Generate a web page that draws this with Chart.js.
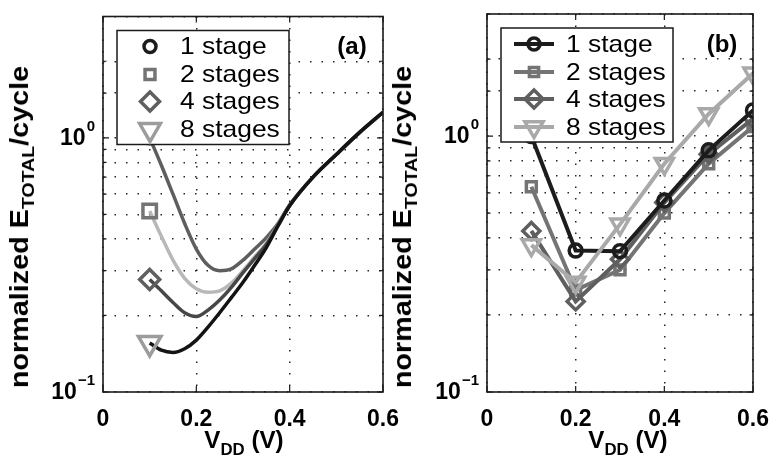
<!DOCTYPE html>
<html>
<head>
<meta charset="utf-8">
<script src="https://cdn.jsdelivr.net/npm/chart.js@4.4.0/dist/chart.umd.min.js"></script>
<style>
body { margin: 0; background: #fff; width: 783px; height: 459px; overflow: hidden; position: relative; font-family: "Liberation Sans", Arial, sans-serif; }
canvas { position: absolute; left: 0; top: 0; }
.yt { position: absolute; font-weight: bold; font-size: 25px; white-space: nowrap; transform: translate(-50%, -50%) rotate(-90deg) scaleX(1.15); line-height: 1; }
.xt { position: absolute; font-weight: bold; font-size: 23px; white-space: nowrap; transform: translate(-50%, -50%) scaleX(1.05); line-height: 1; }
.yt sub { font-size: 17px; vertical-align: -6px; }
.xt sub { font-size: 16px; vertical-align: -7px; }
</style>
</head>
<body>
<canvas id="ca" width="783" height="459"></canvas>
<canvas id="cb" width="783" height="459"></canvas>
<div class="yt" style="left:22px; top:227px;">normalized E<sub>TOTAL</sub>/cycle</div>
<div class="yt" style="left:405px; top:227px;">normalized E<sub>TOTAL</sub>/cycle</div>
<div class="xt" style="left:244px; top:443px;">V<sub>DD</sub> (V)</div>
<div class="xt" style="left:628px; top:443px;">V<sub>DD</sub> (V)</div>
<script>
// series labels and marker shapes
var stageLabels = ["1 stage", "2 stages", "4 stages", "8 stages"];
var markerStyles = ["circle", "rect", "rectRot", "triangle"];

// (a) model curves, V_DD in volts
var vddA = [0.1, 0.125, 0.15, 0.175, 0.2, 0.225, 0.25, 0.275, 0.3, 0.325, 0.35, 0.375, 0.4, 0.45, 0.5, 0.55, 0.6];
var a1 = [1.0, 0.78, 0.60, 0.46, 0.365, 0.315, 0.30, 0.305, 0.33, 0.365, 0.405, 0.46, 0.545, 0.70, 0.86, 1.05, 1.26];
var a2 = [0.515, 0.41, 0.33, 0.28, 0.255, 0.247, 0.25, 0.268, 0.30, 0.34, 0.385, 0.455, 0.542, 0.70, 0.86, 1.05, 1.26];
var a4 = [0.277, 0.25, 0.225, 0.205, 0.198, 0.21, 0.23, 0.258, 0.295, 0.335, 0.38, 0.453, 0.541, 0.70, 0.86, 1.05, 1.26];
var a8 = [0.156, 0.146, 0.143, 0.148, 0.16, 0.18, 0.205, 0.235, 0.27, 0.315, 0.37, 0.45, 0.54, 0.70, 0.86, 1.05, 1.26];

// (b) simulated points
var vddB = [0.1, 0.2, 0.3, 0.4, 0.5, 0.6];
var b1 = [1.0, 0.357, 0.355, 0.56, 0.88, 1.26];
var b2 = [0.634, 0.25, 0.30, 0.50, 0.78, 1.09];
var b4 = [0.426, 0.226, 0.33, 0.55, 0.85, 1.17];
var b8 = [0.375, 0.268, 0.452, 0.78, 1.22, 1.76];

// axis ticks
var xTickStep = 0.2;
var yTickVals = [0.1, 1];
var yTickExp = ["\u22121", "0"];

var lineColA = ["#5e5e5e", "#b8b8b8", "#474747", "#141414"];
var markColA = ["#1c1c1c", "#747474", "#5f5f5f", "#9c9c9c"];
var colB = ["#1c1c1c", "#747474", "#5f5f5f", "#a9a9a9"];
var radA = [6, 9.5, 10, 13];
var radB = [6.5, 7, 8.5, 10.5];

var FONT = "Liberation Sans";

function pts(xs, ys) {
    var out = [];
    for (var i = 0; i < xs.length; i++) {
        out.push({x: xs[i], y: ys[i]});
    }
    return out;
}

function drawMarker(ctx, style, x, y, r, color) {
    ctx.save();
    ctx.strokeStyle = color;
    ctx.lineWidth = 3.5;
    ctx.beginPath();
    if (style == "circle") {
        ctx.arc(x, y, r, 0, 2 * Math.PI);
    } else if (style == "rect") {
        var s = r * Math.SQRT1_2;
        ctx.rect(x - s, y - s, 2 * s, 2 * s);
    } else if (style == "rectRot") {
        ctx.moveTo(x - r, y); ctx.lineTo(x, y - r); ctx.lineTo(x + r, y); ctx.lineTo(x, y + r); ctx.closePath();
    } else {
        // downward triangle
        ctx.moveTo(x - r * 0.866, y - r * 0.5); ctx.lineTo(x + r * 0.866, y - r * 0.5); ctx.lineTo(x, y + r); ctx.closePath();
    }
    ctx.stroke();
    ctx.restore();
}

var panelInfo = {
    ca: {tag: "(a)", lines: false, colors: markColA, lineColors: lineColA, radii: [6, 7, 9.5, 12]},
    cb: {tag: "(b)", lines: true, colors: colB, lineColors: colB, radii: [6, 6.5, 9, 10.5]}
};

var matlabLook = {
    id: "matlabLook",
    afterDatasetsDraw: function(chart) {
        var ctx = chart.ctx;
        var a = chart.chartArea;
        var xs = chart.scales.x, ys = chart.scales.y;
        var info = panelInfo[chart.canvas.id];

        ctx.save();
        ctx.strokeStyle = "#1a1a1a";
        ctx.lineWidth = 1.2;
        // inward ticks
        ctx.beginPath();
        xs.ticks.forEach(function(t) {
            var px = xs.getPixelForValue(t.value);
            ctx.moveTo(px, a.bottom); ctx.lineTo(px, a.bottom - 6);
            ctx.moveTo(px, a.top); ctx.lineTo(px, a.top + 6);
        });
        ys.ticks.forEach(function(t) {
            var py = ys.getPixelForValue(t.value);
            var lg = Math.log10(t.value);
            var len = Math.abs(lg - Math.round(lg)) < 1e-6 ? 6 : 3.5;
            ctx.moveTo(a.left, py); ctx.lineTo(a.left + len, py);
            ctx.moveTo(a.right, py); ctx.lineTo(a.right - len, py);
        });
        ctx.stroke();

        // frame
        ctx.lineWidth = 1.6;
        ctx.strokeRect(a.left, a.top, a.right - a.left, a.bottom - a.top);

        // y tick labels 10^n
        ctx.fillStyle = "#000";
        ctx.textBaseline = "middle";
        ctx.textAlign = "right";
        for (var i = 0; i < yTickVals.length; i++) {
            var py = ys.getPixelForValue(yTickVals[i]);
            ctx.font = "bold 15px " + FONT;
            var ew = ctx.measureText(yTickExp[i]).width;
            ctx.fillText(yTickExp[i], a.left - 8, py - 11);
            ctx.font = "bold 23px " + FONT;
            ctx.fillText("10", a.left - 9 - ew, py + 1);
        }

        // panel tag
        ctx.textAlign = "center";
        ctx.font = "bold 24px " + FONT;
        ctx.fillText(info.tag, a.right - 31, a.top + 31);

        // legend box
        var bx = a.left + 14, by = a.top + 14, bw = 172, bh = 114;
        ctx.fillStyle = "#fff";
        ctx.fillRect(bx, by, bw, bh);
        ctx.lineWidth = 1.5;
        ctx.strokeStyle = "#1a1a1a";
        ctx.strokeRect(bx, by, bw, bh);
        var rows = [30, 58, 85, 113];
        ctx.textAlign = "left";
        ctx.font = "24px " + FONT;
        for (var k = 0; k < stageLabels.length; k++) {
            var ry = a.top + rows[k];
            var mx = bx + 33;
            if (info.lines) {
                ctx.save();
                ctx.strokeStyle = info.lineColors[k];
                ctx.lineWidth = 4;
                ctx.beginPath();
                ctx.moveTo(mx - 20, ry); ctx.lineTo(mx + 20, ry);
                ctx.stroke();
                ctx.restore();
            }
            drawMarker(ctx, markerStyles[k], mx, ry, info.radii[k], info.colors[k]);
            // legend text, a little wider like the original
            ctx.save();
            ctx.translate(bx + (info.lines ? 65 : 63), ry + 1);
            ctx.scale(1.1, 1);
            ctx.fillStyle = "#000";
            ctx.fillText(stageLabels[k], 0, 0);
            ctx.restore();
        }
        ctx.restore();
    }
};

function scaleOpts(yWidth) {
    var gridCol = "rgba(0,0,0,0.85)";
    return {
        x: {
            type: "linear", min: 0, max: 0.6,
            ticks: {
                stepSize: xTickStep, color: "#000", padding: 14, maxRotation: 0, autoSkip: false,
                font: {family: FONT, size: 23, weight: "bold"},
                callback: function(v) { return v == 0 ? "0" : v.toFixed(1); }
            },
            grid: {color: gridCol, lineWidth: 1.5, drawTicks: false},
            border: {display: false, dash: [1.5, 10]},
            afterFit: function(s) { s.height = 67; }
        },
        y: {
            type: "logarithmic", min: 0.1, max: 3,
            ticks: {display: false},
            grid: {color: gridCol, lineWidth: 1.5, drawTicks: false},
            border: {display: false, dash: [1.5, 10]},
            afterFit: function(s) { s.width = yWidth; }
        }
    };
}

var seriesA = [a1, a2, a4, a8];
var dsA = [];
for (var i = 0; i < seriesA.length; i++) {
    (function(i) {
        dsA.push({
            label: stageLabels[i],
            data: pts(vddA, seriesA[i]),
            borderColor: lineColA[i],
            borderWidth: 3.5,
            cubicInterpolationMode: "monotone",
            pointStyle: markerStyles[i],
            pointRotation: markerStyles[i] == "triangle" ? 180 : 0,
            pointRadius: function(c) { return c.dataIndex == 0 ? radA[i] : 0; },
            pointBorderWidth: 3.5,
            pointBorderColor: markColA[i],
            pointBackgroundColor: "rgba(0,0,0,0)",
            order: 4 - i
        });
    })(i);
}

var seriesB = [b1, b2, b4, b8];
var orderB = [2, 4, 3, 1];
var dsB = [];
for (var j = 0; j < seriesB.length; j++) {
    dsB.push({
        label: stageLabels[j],
        data: pts(vddB, seriesB[j]),
        borderColor: colB[j],
        borderWidth: 4,
        tension: 0,
        pointStyle: markerStyles[j],
        pointRotation: markerStyles[j] == "triangle" ? 180 : 0,
        pointRadius: radB[j],
        pointBorderWidth: 3.5,
        pointBorderColor: colB[j],
        pointBackgroundColor: "rgba(0,0,0,0)",
        order: orderB[j]
    });
}

function makeChart(id, datasets, padding, yWidth) {
    return new Chart(document.getElementById(id), {
        type: "line",
        data: {datasets: datasets},
        options: {
            responsive: false,
            animation: false,
            layout: {padding: padding},
            plugins: {legend: {display: false}, tooltip: {enabled: false}},
            scales: scaleOpts(yWidth)
        },
        plugins: [matlabLook]
    });
}

makeChart("ca", dsA, {left: 0, top: 9, right: 400, bottom: 0}, 103);
makeChart("cb", dsB, {left: 392, top: 8, right: 15, bottom: 0}, 95);
</script>
</body>
</html>
